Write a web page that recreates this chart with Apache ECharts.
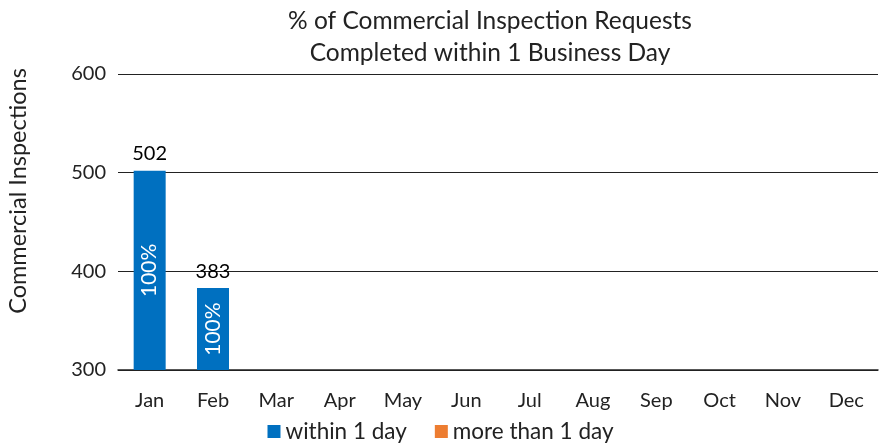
<!DOCTYPE html>
<html>
<head>
<meta charset="utf-8">
<script src="https://cdn.jsdelivr.net/npm/echarts@6/dist/echarts.min.js"></script>
<style>
  html, body { margin: 0; padding: 0; background: #fff; }
  #chart { width: 881px; height: 446px; }
</style>
</head>
<body>
<div id="chart"></div>
<script>
const months = ['Jan', 'Feb', 'Mar', 'Apr', 'May', 'Jun', 'Jul', 'Aug', 'Sep', 'Oct', 'Nov', 'Dec']
const withinOneDay = [502, 383, null, null, null, null, null, null, null, null, null, null]
const moreThanOneDay = [0, 0, null, null, null, null, null, null, null, null, null, null]
const withinPct = ['100%', '100%']
const yTicks = { min: 300, max: 600, interval: 100 }

const font = 'Lato, "Open Sans", sans-serif'
const chart = echarts.init(document.getElementById('chart'))

const option = {
  animation: false,
  textStyle: { fontFamily: font },
  title: {
    text: '% of Commercial Inspection Requests\nCompleted within 1 Business Day',
    left: 485,
    textAlign: 'center',
    top: 0,
    textStyle: { fontFamily: font, fontSize: 24.5, fontWeight: 'normal', color: '#222', lineHeight: 32 },
  },
  legend: {
    bottom: -2,
    left: 'center',
    itemWidth: 13,
    itemHeight: 13,
    itemGap: 28,
    icon: 'rect',
    textStyle: { fontFamily: font, fontSize: 22.5, color: '#222' },
    data: ['within 1 day', 'more than 1 day'],
  },
  grid: { left: 118, right: 3, top: 74, bottom: 76, outerBoundsMode: 'none' },
  xAxis: {
    type: 'category',
    data: months,
    axisTick: { show: false },
    axisLine: { show: true, lineStyle: { color: '#222', width: 1.5 } },
    axisLabel: { fontFamily: font, fontSize: 20, color: '#222', margin: 21 },
  },
  yAxis: {
    type: 'value',
    min: yTicks.min,
    max: yTicks.max,
    interval: yTicks.interval,
    name: 'Commercial Inspections',
    nameLocation: 'middle',
    nameRotate: 90,
    nameGap: 88,
    nameTextStyle: { fontFamily: font, fontSize: 23.5, color: '#222', padding: [0, 0, 0, 62] },
    axisLabel: { fontFamily: font, fontSize: 20, color: '#222', margin: 12 },
    splitLine: { lineStyle: { color: '#222', width: 1 } },
  },
  series: [
    {
      name: 'within 1 day',
      type: 'bar',
      stack: 'total',
      barWidth: 32,
      data: withinOneDay,
      itemStyle: { color: '#0070C0' },
      label: {
        show: true,
        position: 'inside',
        rotate: 90,
        color: '#fff',
        fontFamily: font,
        fontSize: 21,
        formatter: (p) => withinPct[p.dataIndex] || '',
      },
    },
    {
      name: 'more than 1 day',
      type: 'bar',
      stack: 'total',
      barWidth: 32,
      data: moreThanOneDay,
      itemStyle: { color: '#ED7D31' },
      label: {
        show: true,
        position: 'top',
        distance: 7,
        color: '#000',
        fontFamily: font,
        fontSize: 20,
        formatter: (p) => {
          const v = withinOneDay[p.dataIndex]
          return v == null ? '' : String(v + (moreThanOneDay[p.dataIndex] || 0))
        },
      },
    },
  ],
}

chart.setOption(option)
</script>
</body>
</html>
